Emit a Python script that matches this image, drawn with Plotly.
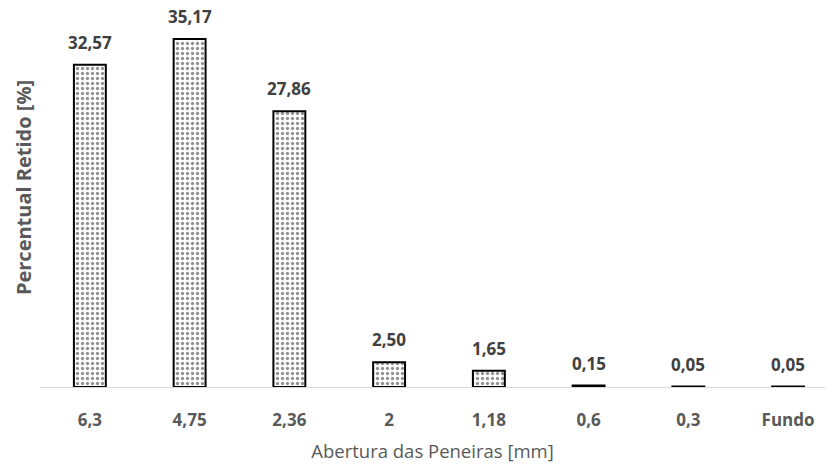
import plotly.graph_objects as go

# Sieve openings and percentage retained on each
aberturas = ["6,3", "4,75", "2,36", "2", "1,18", "0,6", "0,3", "Fundo"]
retido = [32.57, 35.17, 27.86, 2.50, 1.65, 0.15, 0.05, 0.05]

fig = go.Figure(
    go.Bar(
        x=aberturas,
        y=retido,
        width=0.32,
        marker=dict(
            color="white",
            line=dict(color="black", width=2),
            pattern=dict(shape=".", size=5, solidity=0.35,
                         fgcolor="#262626", bgcolor="white"),
        ),
        cliponaxis=False,
    )
)

# Value labels above each bar (x given as category index)
for i, val in enumerate(retido):
    fig.add_annotation(
        x=i, y=val, xref="x", yref="y",
        text=f"{val:.2f}".replace(".", ","),
        showarrow=False, yanchor="bottom", yshift=9,
        font=dict(family="Open Sans", size=17, color="#404040", weight="bold"),
    )

# Vertical axis title
fig.add_annotation(
    x=0, y=0.529, xref="paper", yref="paper",
    xshift=-17, xanchor="center", yanchor="middle",
    text="Percentual Retido [%]", textangle=-90, showarrow=False,
    font=dict(family="Open Sans", size=20, color="#595959", weight="bold"),
)

fig.update_layout(
    width=827,
    height=469,
    margin=dict(l=40, r=2, t=11, b=82),
    paper_bgcolor="white",
    plot_bgcolor="white",
    showlegend=False,
    font=dict(family="Open Sans", color="#595959"),
)

fig.update_xaxes(
    type="category",
    range=[-0.5, 7.37],
    showline=True,
    linecolor="#d9d9d9",
    linewidth=1,
    ticks="",
    ticklabelstandoff=18,
    showgrid=False,
    tickfont=dict(family="Open Sans", size=17, color="#595959", weight="bold"),
    title=dict(text="Abertura das Peneiras [mm]",
               font=dict(family="Open Sans", size=18.5, color="#595959"),
               standoff=14),
)

fig.update_yaxes(
    range=[0, 38],
    showgrid=False,
    zeroline=False,
    showticklabels=False,
    showline=False,
)

fig.write_html("out.html")
